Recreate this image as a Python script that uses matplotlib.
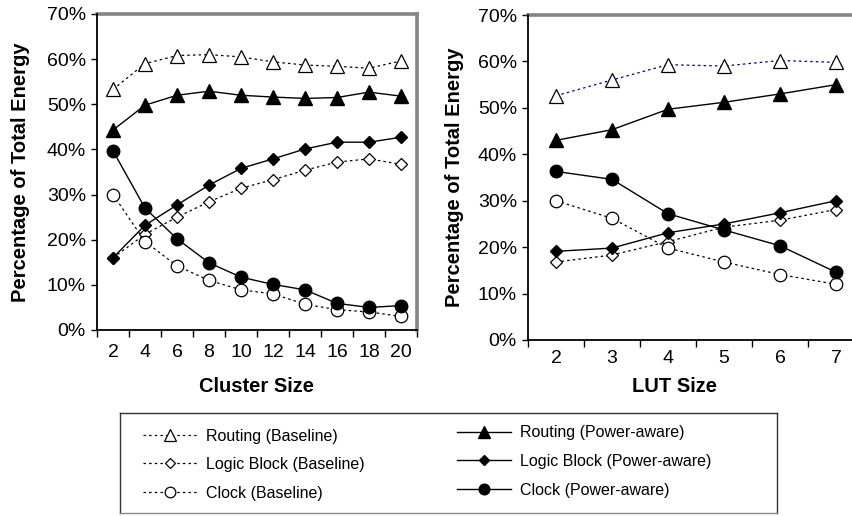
import matplotlib
matplotlib.use('Agg')
import matplotlib.pyplot as plt
from matplotlib.ticker import FixedLocator, NullFormatter, FuncFormatter

plt.rcParams['font.family'] = ['Liberation Sans', 'DejaVu Sans']

# energy breakdown vs cluster size (N)
cluster_sizes = [2, 4, 6, 8, 10, 12, 14, 16, 18, 20]
route_base_c = [53.3, 59.0, 60.8, 61.0, 60.5, 59.4, 58.7, 58.4, 58.0, 59.6]
route_pa_c = [44.3, 49.8, 52.0, 52.9, 52.0, 51.6, 51.3, 51.5, 52.7, 51.8]
logic_base_c = [16.0, 21.2, 25.0, 28.4, 31.4, 33.3, 35.4, 37.2, 37.9, 36.7]
logic_pa_c = [16.0, 23.2, 27.7, 32.1, 35.8, 37.9, 40.1, 41.6, 41.6, 42.7]
clock_base_c = [30.0, 19.6, 14.2, 11.0, 8.9, 8.0, 5.7, 4.5, 4.0, 3.0]
clock_pa_c = [39.7, 27.0, 20.2, 14.9, 11.7, 10.1, 8.9, 5.9, 5.0, 5.4]

# energy breakdown vs LUT size (K)
lut_sizes = [2, 3, 4, 5, 6, 7]
route_base_l = [52.6, 56.0, 59.3, 59.0, 60.2, 59.8]
route_pa_l = [43.0, 45.3, 49.7, 51.2, 53.0, 55.0]
logic_base_l = [16.8, 18.3, 21.2, 24.3, 25.8, 28.1]
logic_pa_l = [19.1, 19.8, 23.1, 25.0, 27.4, 30.0]
clock_base_l = [30.0, 26.2, 19.8, 16.8, 14.1, 12.0]
clock_pa_l = [36.3, 34.6, 27.2, 23.7, 20.3, 14.6]

labels = ['Routing (Baseline)', 'Logic Block (Baseline)', 'Clock (Baseline)',
          'Routing (Power-aware)', 'Logic Block (Power-aware)', 'Clock (Power-aware)']
yticks = [0, 10, 20, 30, 40, 50, 60, 70]

DOT = (0, (2, 2.5))


def draw_panel(ax, x, base, pa, step, route_color, xlabel, xlab_pos, ylab_x, xpad):
    markers = ['^', 'D', 'o']
    sizes = [9.5, 6, 9]
    colors = [route_color, 'black', 'black']
    for vals, m, ms, c in zip(base, markers, sizes, colors):
        ax.plot(x, vals, linestyle=DOT, lw=0.9, color=c, marker=m, ms=ms,
                mfc='white', mec='black', mew=0.9, zorder=2)
    for vals, m, ms in zip(pa, markers, sizes):
        ax.plot(x, vals, '-', lw=1.0, color='black', marker=m, ms=ms,
                mfc='black', mec='black', zorder=3)

    ax.set_xlim(x[0] - step / 2, x[-1] + step / 2)
    ax.set_ylim(0, 70)
    bounds = [v - step / 2 for v in x] + [x[-1] + step / 2]
    ax.xaxis.set_major_locator(FixedLocator(bounds))
    ax.xaxis.set_major_formatter(NullFormatter())
    ax.xaxis.set_minor_locator(FixedLocator(x))
    ax.xaxis.set_minor_formatter(FuncFormatter(lambda v, p: '%d' % v))
    ax.tick_params(axis='x', which='major', direction='out', length=5, width=1)
    ax.tick_params(axis='x', which='minor', length=0, pad=xpad, labelsize=14)
    ax.set_yticks(yticks)
    ax.yaxis.set_major_formatter(FuncFormatter(lambda v, p: '%d%%' % v))
    ax.tick_params(axis='y', direction='out', length=4, width=1, pad=4, labelsize=14)

    for s in ['left', 'bottom']:
        ax.spines[s].set_color('black')
        ax.spines[s].set_linewidth(1.3)
        ax.spines[s].set_zorder(5)
    for s in ['top', 'right']:
        ax.spines[s].set_color('#858585')
        ax.spines[s].set_linewidth(2.6)

    ax.set_ylabel('Percentage of Total Energy', fontsize=14.5, fontweight='bold')
    ax.yaxis.set_label_coords(ylab_x, 0.5)
    ax.set_xlabel(xlabel, fontsize=14.5, fontweight='bold')
    ax.xaxis.set_label_coords(*xlab_pos)


fig = plt.figure(figsize=(8.53, 5.16), dpi=100)

ax1 = fig.add_axes([97 / 853, 186 / 516, 320 / 853, 316 / 516])
draw_panel(ax1, cluster_sizes,
           [route_base_c, logic_base_c, clock_base_c],
           [route_pa_c, logic_pa_c, clock_pa_c],
           2, 'black', 'Cluster Size', (0.5, -0.15), -0.21, 10)

ax2 = fig.add_axes([528 / 853, 176 / 516, 336 / 853, 325 / 516])
draw_panel(ax2, lut_sizes,
           [route_base_l, logic_base_l, clock_base_l],
           [route_pa_l, logic_pa_l, clock_pa_l],
           1, '#000080', 'LUT Size', (0.4375, -0.115), -0.19, 7)

# shared legend box below the panels
handles = ax2.get_lines()
axl = fig.add_axes([120 / 853, 3 / 516, 657 / 853, 100 / 516])
axl.set_xticks([])
axl.set_yticks([])
for s in axl.spines.values():
    s.set_color('#333333')
    s.set_linewidth(1.0)
axl.spines['bottom'].set_color('#888888')

leg_kw = dict(frameon=False, fontsize=11.5, handlelength=3.4, handletextpad=0.55,
              labelspacing=0.85, borderpad=0, borderaxespad=0, numpoints=1,
              markerscale=0.85, loc='upper left')
leg1 = axl.legend(handles[:3], labels[:3], bbox_to_anchor=(0.035, 0.845), **leg_kw)
axl.add_artist(leg1)
axl.legend(handles[3:], labels[3:], bbox_to_anchor=(0.513, 0.875), **leg_kw)

fig.savefig('out.png', dpi=100)
